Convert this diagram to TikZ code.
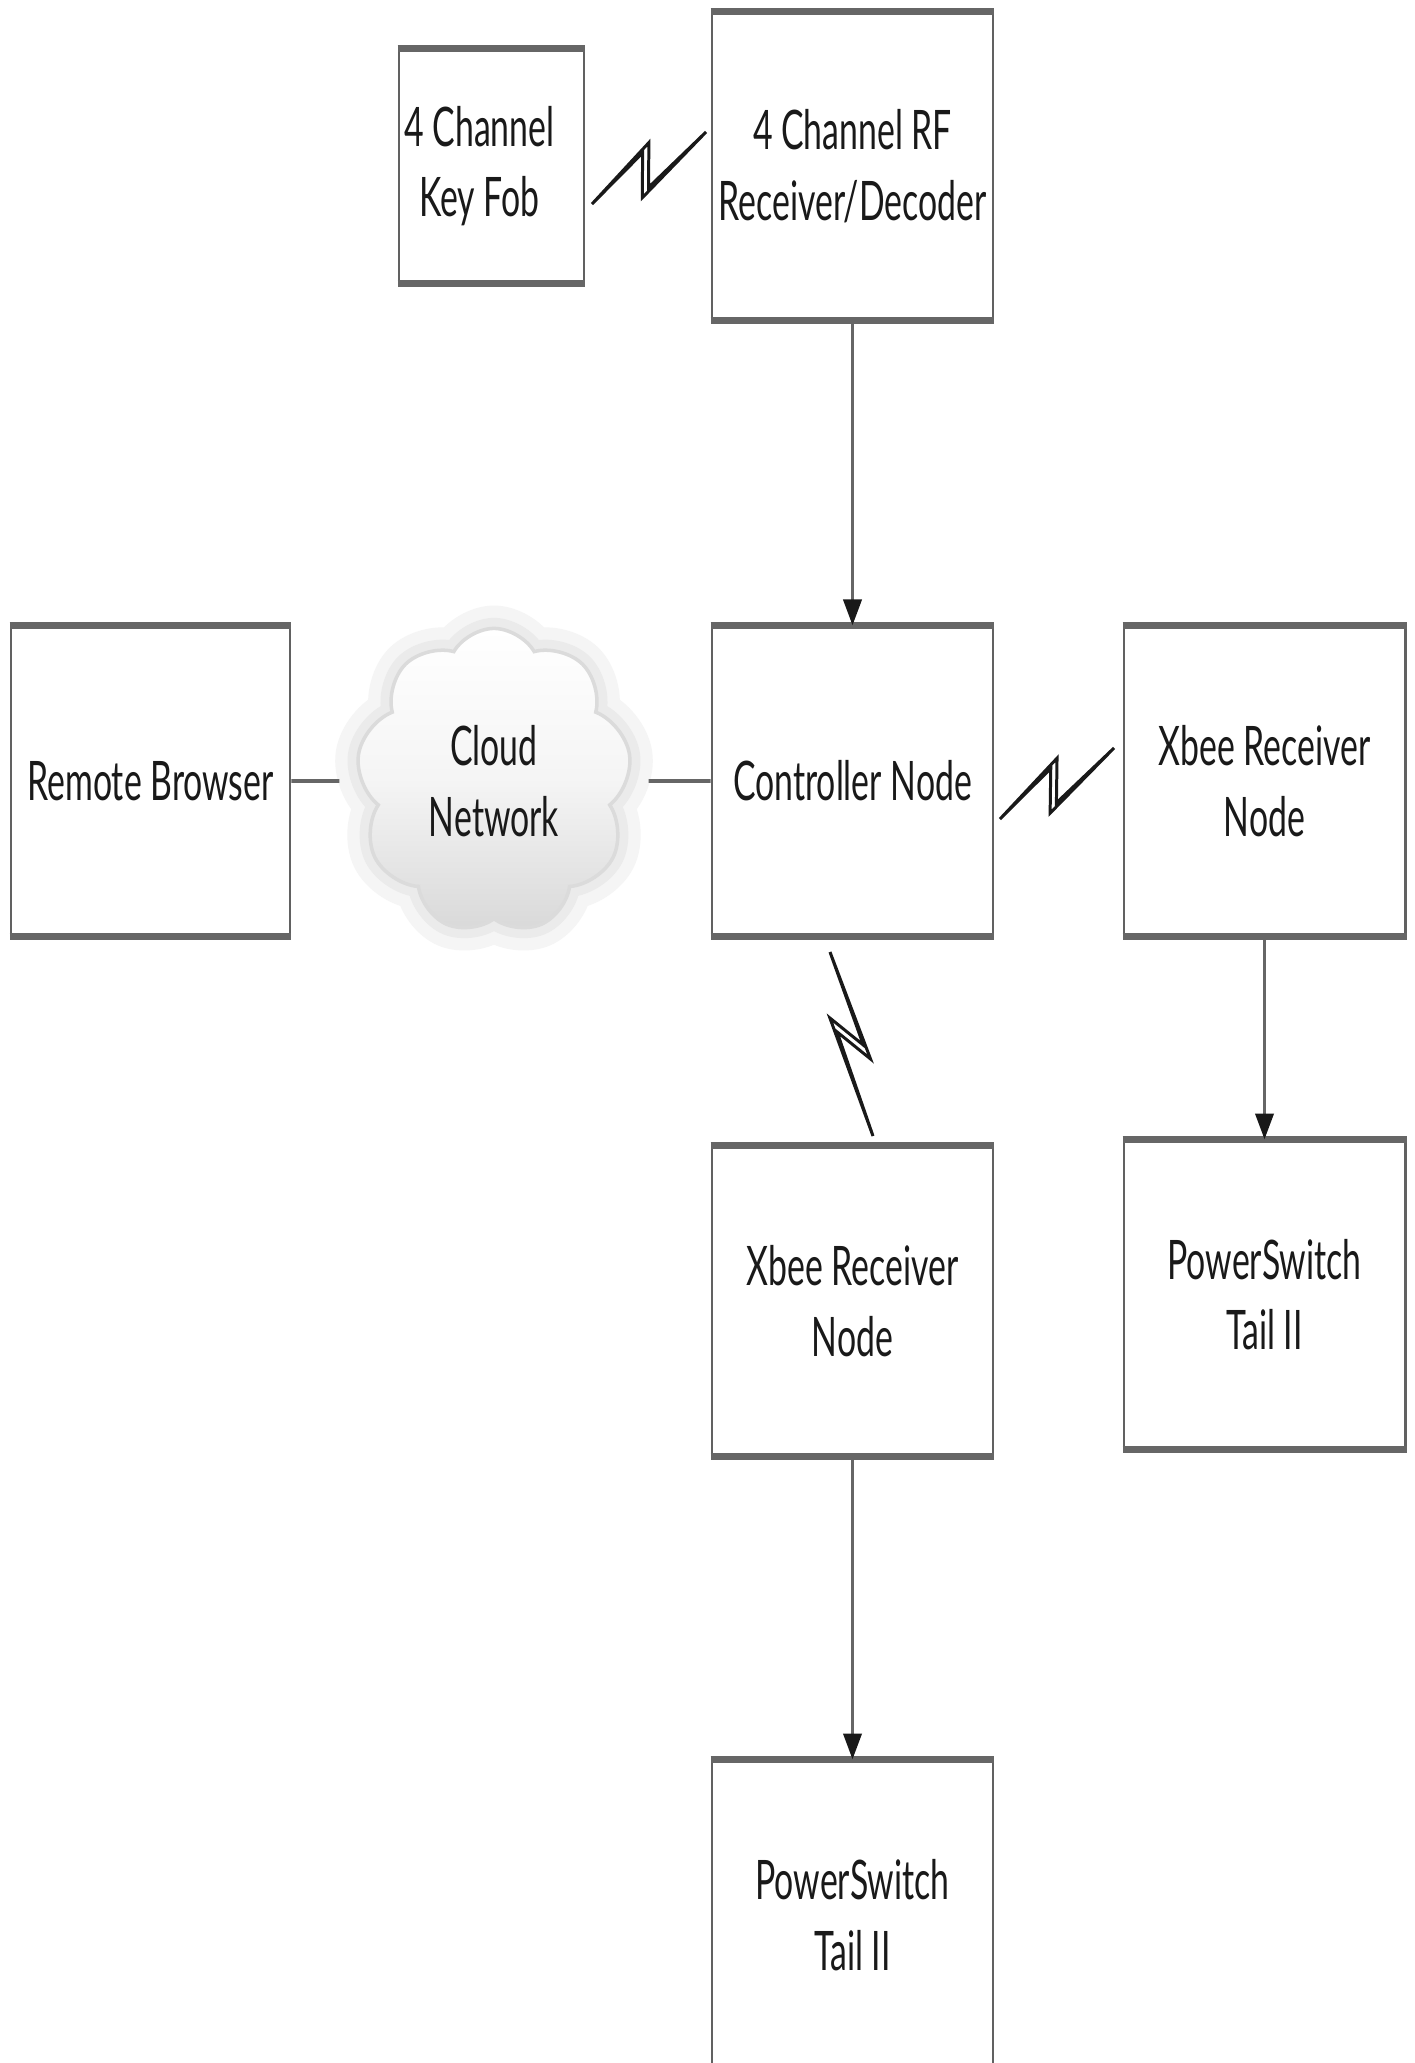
\documentclass[tikz,border=0pt]{standalone}
\usepackage{fontspec}
\setmainfont{Lato}[FakeStretch=0.62]
\usetikzlibrary{shapes.symbols,arrows.meta,calc}
\newcommand\zbolt[3]{%
  \pgfmathsetmacro\ba{0.16*#3/0.40}%
  \pgfmathsetmacro\bb{0.12*#3/0.48}%
  \pgfmathsetmacro\bc{0.16*#3/0.66}%
  \pgfmathsetmacro\bd{0.12*#3/0.58}%
  \draw[boltstyle] (#1) -- ($(#1)!0.60!(#2)!\ba!90:(#2)$) -- ($(#1)!0.42!(#2)!\bd!-90:(#2)$) -- (#2)
    -- ($(#1)!0.34!(#2)!\bc!-90:(#2)$) -- ($(#1)!0.52!(#2)!\bb!90:(#2)$) -- cycle;}
\begin{document}
\begin{tikzpicture}[x=0.01cm,y=-0.01cm,
  box/.style={draw=black!62, line width=0.8pt, fill=white, align=center, inner sep=0pt,
    text=black!90, font=\fontsize{15.5}{20}\selectfont},
  conn/.style={draw=black!60, line width=1.1pt},
  arr/.style={conn, -{Triangle[length=0.26cm,width=0.18cm,color=black!90]}},
  boltstyle/.style={draw=black!90, line width=0.85pt, fill=white, line join=miter},
  edgeline/.style={draw=black!60, line width=2pt}]
\fill[white] (0,0) rectangle (1415,2063);
\useasboundingbox (0,0) rectangle (1415,2063);
\clip (0,0) rectangle (1415,2063);

% boxes
\node[box, minimum width=1.85cm, minimum height=2.32cm] (kf) at (491.5,166) {4 Channel\kern0.24cm\\Key Fob\kern0.24cm};
\node[box, minimum width=2.81cm, minimum height=3.06cm] (rf) at (852.5,166) {4 Channel RF\\Receiver/Decoder};
\node[box, minimum width=2.79cm, minimum height=3.08cm] (rb) at (150.5,781) {Remote Browser};
\node[box, minimum width=2.81cm, minimum height=3.08cm] (ctrl) at (852.5,781) {Controller Node};
\node[box, minimum width=2.81cm, minimum height=3.08cm] (xr) at (1264.5,781) {Xbee Receiver\\Node};
\node[box, minimum width=2.81cm, minimum height=3.08cm] (xb) at (852.5,1301) {Xbee Receiver\\Node};
\node[box, minimum width=2.81cm, minimum height=3.07cm] (pr) at (1264.5,1294.5) {PowerSwitch\\Tail II};
\node[box, minimum width=2.81cm, minimum height=3.08cm] (pb) at (852.5,1915) {PowerSwitch\\Tail II};

\foreach \n in {kf,rf,rb,ctrl,xr,xb,pr,pb}{
  \draw[edgeline] (\n.north west) -- (\n.north east);
  \draw[edgeline] (\n.south west) -- (\n.south east);
}

% cloud
\node[cloud, cloud puffs=9, cloud puff arc=120, aspect=0.85,
  minimum width=2.75cm, minimum height=3.05cm, inner sep=0pt,
  preaction={draw=black!4, line width=13pt},
  preaction={draw=black!8, line width=6pt},
  top color=white, bottom color=black!15, middle color=black!4, shade,
  draw=black!14, line width=1pt,
  align=center, text=black!90, font=\fontsize{15.5}{20}\selectfont] (cloud) at (494,781) {Cloud\\Network};

% connectors
\draw[conn, shorten >=0.2cm] (rb.east) -- (cloud.west);
\draw[conn, shorten <=0.2cm] (cloud.east) -- (ctrl.west);
\draw[arr] (rf.south) -- (ctrl.north);
\draw[arr] (xr.south) -- (pr.north);
\draw[arr] (xb.south) -- (pb.north);

% wireless links
\coordinate (b1a) at (592,204); \coordinate (b1b) at (706,132);
\coordinate (b2a) at (1000,819); \coordinate (b2b) at (1114,748);
\coordinate (b3a) at (830,952); \coordinate (b3b) at (873,1136);
\zbolt{b1a}{b1b}{1}
\zbolt{b2a}{b2b}{1}
\zbolt{b3a}{b3b}{0.5}
\end{tikzpicture}
\end{document}
